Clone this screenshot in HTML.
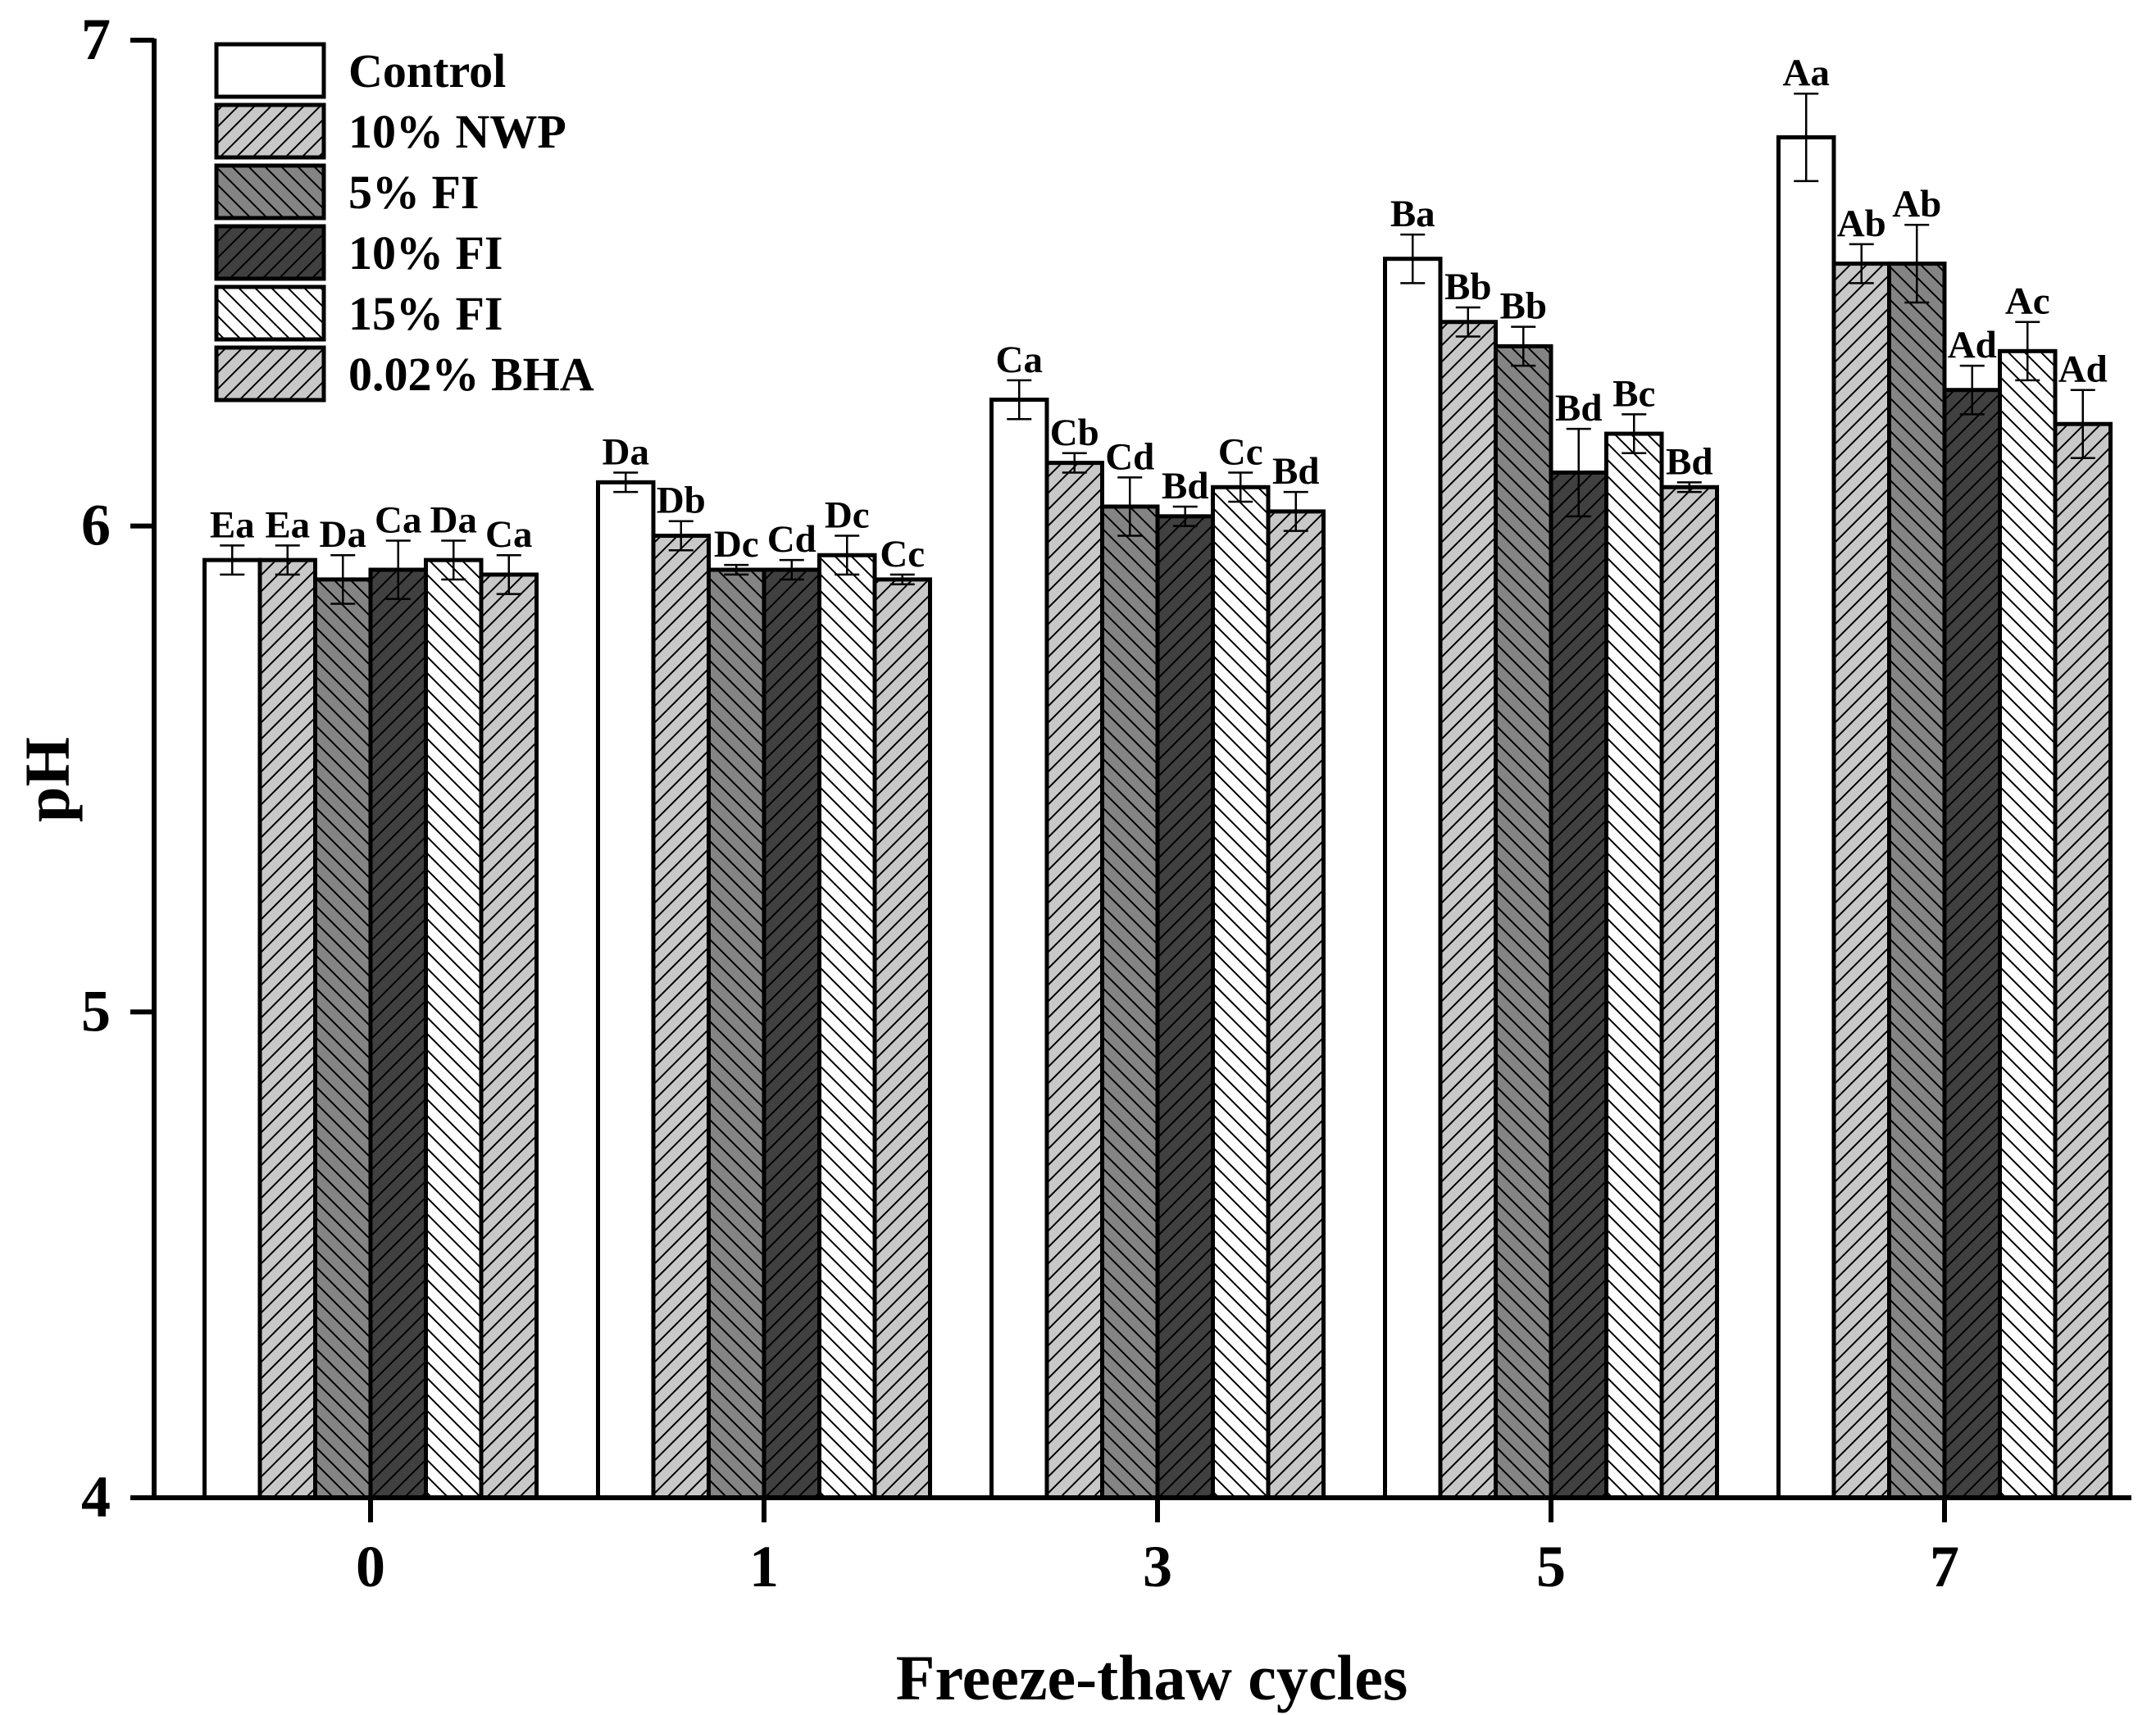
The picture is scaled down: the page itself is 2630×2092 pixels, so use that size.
<!DOCTYPE html>
<html><head><meta charset="utf-8"><style>
html,body{margin:0;padding:0;background:#fff;}
svg{display:block;font-family:"Liberation Serif",serif;font-weight:bold;}
</style></head><body>
<svg id="chart" width="2630" height="2092" viewBox="0 0 2630 2092" xmlns="http://www.w3.org/2000/svg">
<defs>
<pattern id="pNWP" patternUnits="userSpaceOnUse" width="20" height="20"><rect width="20" height="20" fill="#c8c8c8"/><path d="M-5,5 L5,-5 M0,20 L20,0 M15,25 L25,15" stroke="#000" stroke-width="2"/></pattern>
<pattern id="p5FI" patternUnits="userSpaceOnUse" width="20" height="20"><rect width="20" height="20" fill="#848484"/><path d="M-5,15 L5,25 M0,0 L20,20 M15,-5 L25,5" stroke="#000" stroke-width="2"/></pattern>
<pattern id="p10FI" patternUnits="userSpaceOnUse" width="20" height="20"><rect width="20" height="20" fill="#404040"/><path d="M-5,5 L5,-5 M0,20 L20,0 M15,25 L25,15" stroke="#000" stroke-width="2"/></pattern>
<pattern id="p15FI" patternUnits="userSpaceOnUse" width="20" height="20"><rect width="20" height="20" fill="#fff"/><path d="M-5,15 L5,25 M0,0 L20,20 M15,-5 L25,5" stroke="#000" stroke-width="2"/></pattern>
<pattern id="pBHA" patternUnits="userSpaceOnUse" width="20" height="20"><rect width="20" height="20" fill="#c8c8c8"/><path d="M-5,5 L5,-5 M0,20 L20,0 M15,25 L25,15" stroke="#000" stroke-width="2"/></pattern>
</defs>
<g id="bars"></g>
<g id="axes"></g>
<g id="legend"></g>
</svg>
<script>
const categories = ["0","1","3","5","7"];
const seriesNames = ["Control","10% NWP","5% FI","10% FI","15% FI","0.02% BHA"];
const control = [5.93, 6.09, 6.26, 6.55, 6.80];
const nwp = [5.93, 5.98, 6.13, 6.42, 6.54];
const fi5 = [5.89, 5.91, 6.04, 6.37, 6.54];
const fi10 = [5.91, 5.91, 6.02, 6.11, 6.28];
const fi15 = [5.93, 5.94, 6.08, 6.19, 6.36];
const bha = [5.90, 5.89, 6.03, 6.08, 6.21];
const errControl = [0.03, 0.02, 0.04, 0.05, 0.09];
const errNwp = [0.03, 0.03, 0.02, 0.03, 0.04];
const errFi5 = [0.05, 0.01, 0.06, 0.04, 0.08];
const errFi10 = [0.06, 0.02, 0.02, 0.09, 0.05];
const errFi15 = [0.04, 0.04, 0.03, 0.04, 0.06];
const errBha = [0.04, 0.01, 0.04, 0.01, 0.07];
const lblControl = ["Ea","Da","Ca","Ba","Aa"];
const lblNwp = ["Ea","Db","Cb","Bb","Ab"];
const lblFi5 = ["Da","Dc","Cd","Bb","Ab"];
const lblFi10 = ["Ca","Cd","Bd","Bd","Ad"];
const lblFi15 = ["Da","Dc","Cc","Bc","Ac"];
const lblBha = ["Ca","Cc","Bd","Bd","Ad"];
const yTicks = [4,5,6,7];

const values = [control,nwp,fi5,fi10,fi15,bha];
const errs = [errControl,errNwp,errFi5,errFi10,errFi15,errBha];
const lbls = [lblControl,lblNwp,lblFi5,lblFi10,lblFi15,lblBha];
const fills = ["#fff","url(#pNWP)","url(#p5FI)","url(#p10FI)","url(#p15FI)","url(#pBHA)"];

const NS="http://www.w3.org/2000/svg";
const X0=159, X1=2600, Y0=1827, Ymin=4, Ymax=7, Ytop=49;
const y = v => Y0 - (v-Ymin)*(Y0-Ytop)/(Ymax-Ymin);
const groupCenter = i => 452 + i*480;
const BW = 67.5;
const barX = (i,s) => groupCenter(i) - 3*BW + s*BW;
function mk(tag, attrs, parent){const e=document.createElementNS(NS,tag);for(const k in attrs)e.setAttribute(k,attrs[k]);parent.appendChild(e);return e;}

const gb=document.getElementById('bars');
for(let s=0;s<values.length;s++){
  for(let i=0;i<categories.length;i++){
    const v=values[s][i], x=barX(i,s), yt=y(v);
    const r=mk('rect',{x:x,y:yt,width:BW,height:Y0-yt,fill:fills[s],stroke:'#000','stroke-width':5},gb);
    
    
    const cx=x+BW/2, e=errs[s][i];
    const eg=mk('path',{d:`M${cx},${y(v+e)} V${y(v-e)} M${cx-15},${y(v+e)} H${cx+15} M${cx-15},${y(v-e)} H${cx+15}`,stroke:'#000','stroke-width':2.5,fill:'none'},gb);
    
    
    const t=mk('text',{x:cx,y:y(v+e)-10,'text-anchor':'middle','font-size':47},gb);
    t.textContent=lbls[s][i];
    
    
  }
}

const ga=document.getElementById('axes');
const yl=mk('path',{d:`M${X0},${Y0} H${X1} M188,${Y0+2} V${Ytop-2}`,stroke:'#000','stroke-width':6,fill:'none'},ga);


yTicks.forEach(t=>{
  const p=mk('path',{d:`M159,${y(t)} H188`,stroke:'#000','stroke-width':6},ga);
  
  
  const tx=mk('text',{x:135,y:y(t)+23,'text-anchor':'end','font-size':72},ga);
  tx.textContent=t;
  
  
});
categories.forEach((c,i)=>{
  const p=mk('path',{d:`M${groupCenter(i)},${Y0} V${Y0+30}`,stroke:'#000','stroke-width':6},ga);
  
  
  const tx=mk('text',{x:groupCenter(i),y:1935,'text-anchor':'middle','font-size':72},ga);
  tx.textContent=c;
  
  
});
const xt=mk('text',{x:1405,y:2073,'text-anchor':'middle','font-size':78},ga);
xt.textContent='Freeze-thaw cycles';


const yt=mk('text',{x:0,y:0,'text-anchor':'middle','font-size':78,transform:'translate(84,951) rotate(-90)'},ga);
yt.textContent='pH';



const gl=document.getElementById('legend');
seriesNames.forEach((n,s)=>{
  const top=54+s*74;
  const r=mk('rect',{x:264,y:top,width:131,height:64,fill:fills[s],stroke:'#000','stroke-width':5},gl);
  
  
  const t=mk('text',{x:425,y:top+52,'font-size':58},gl);
  t.textContent=n;
  
  
});
</script>
</body></html>
